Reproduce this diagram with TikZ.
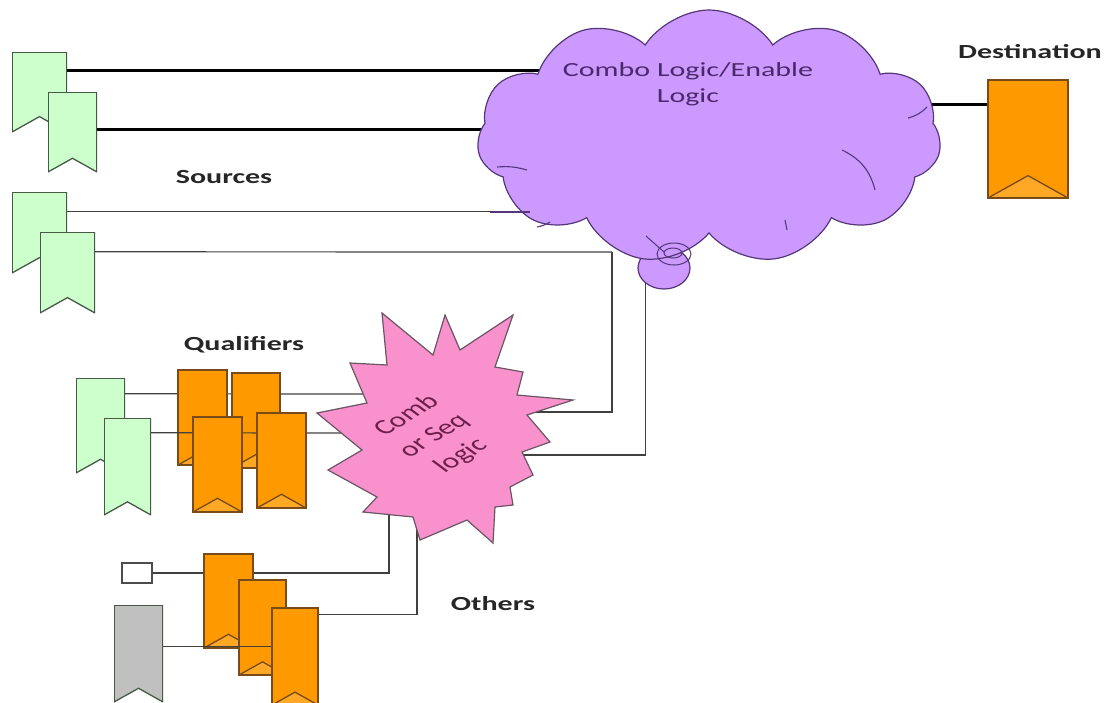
\documentclass[tikz,border=0pt]{standalone}
\usepackage{fontspec}
\usetikzlibrary{shapes.symbols,shapes.geometric,calc}
\newfontfamily\lblfont[FakeStretch=1.5]{Carlito}
\newfontfamily\starfont{Carlito}

\definecolor{srcgreen}{RGB}{204,255,204}
\definecolor{srcline}{RGB}{70,90,70}
\definecolor{regorange}{RGB}{255,153,0}
\definecolor{regline}{RGB}{120,75,25}
\definecolor{reggrey}{RGB}{192,192,192}
\definecolor{cloudfill}{RGB}{204,153,255}
\definecolor{cloudline}{RGB}{85,55,120}
\definecolor{starfill}{RGB}{248,145,204}
\definecolor{starline}{RGB}{105,85,100}
\definecolor{cloudtext}{RGB}{75,40,105}
\definecolor{startext}{RGB}{110,30,75}

\pgfdeclarelayer{bg}
\pgfsetlayers{bg,main}

\tikzset{
  ffgreen/.style={rectangle, inner sep=0pt, fill=srcgreen, draw=none,
    path picture={
      \fill[white] (path picture bounding box.south west)
        -- ($(path picture bounding box.south)!0.56!90:(path picture bounding box.south east)$)
        -- (path picture bounding box.south east) -- cycle;
      \draw[srcline, line width=2.6pt] (path picture bounding box.south west)
        -- (path picture bounding box.north west) -- (path picture bounding box.north east)
        -- (path picture bounding box.south east);
      \draw[srcline, line width=1.3pt] (path picture bounding box.south west)
        -- ($(path picture bounding box.south)!0.56!90:(path picture bounding box.south east)$)
        -- (path picture bounding box.south east);
    }},
  ffgrey/.style={ffgreen, fill=reggrey},
  fforange/.style={rectangle, inner sep=0pt, fill=regorange, draw=regline, line width=1.3pt,
    path picture={
      \fill[regorange!85!white] (path picture bounding box.south west)
        -- ($(path picture bounding box.south)!0.56!90:(path picture bounding box.south east)$)
        -- (path picture bounding box.south east) -- cycle;
      \draw[regline, line width=1.3pt] (path picture bounding box.south west)
        -- ($(path picture bounding box.south)!0.56!90:(path picture bounding box.south east)$)
        -- (path picture bounding box.south east);
    }},
  crease/.style={cloudline, line width=1.1pt},
  wire/.style={line width=1.2pt, black!75},
  bus/.style={line width=3pt, black},
  title/.style={font=\lblfont\bfseries\fontsize{20}{24}\selectfont, text=black!85},
}

\begin{document}
\begin{tikzpicture}[x=1pt,y=-1pt]
  \useasboundingbox (0,0) rectangle (1110,702);

  % combo logic cloud
  \node[ellipse, minimum width=52, minimum height=42, fill=cloudfill, draw=cloudline,
        line width=1.2pt] (bub) at (664,268) {};
  \node[cloud, cloud puffs=11, cloud puff arc=115, aspect=1.9, inner sep=0pt,
        minimum width=464, minimum height=254, fill=cloudfill, draw=cloudline,
        line width=1.2pt] (cl) at (709,137) {};
  \draw[cloudline, line width=1pt] (674,254) ellipse (17 and 11);
  \draw[cloudline, line width=1pt] (673,253) ellipse (9 and 5);
  \draw[cloudline, line width=1pt] (646,236) -- (664,252);
  \draw[crease] (497,167) to[bend left=10] (527,170);
  \draw[crease] (490,212) -- (530,212);
  \draw[crease] (842,150) to[bend left=25] (875,190);
  \draw[crease] (908,118) to[bend right=15] (927,107);
  \draw[crease] (550,222) to[bend left=10] (537,227);
  \draw[crease] (785,220) -- (787,230);
  \node[text=cloudtext, align=center, font=\lblfont\fontsize{20}{26}\selectfont]
    (cltext) at (688,84) {Combo Logic/Enable\\Logic};

  % sources
  \node[ffgreen, minimum width=55, minimum height=80] (s1) at (39.5,92) {};
  \node[ffgreen, minimum width=49, minimum height=80] (s2) at (72.5,132) {};
  \node[ffgreen, minimum width=55, minimum height=81] (s3) at (39.5,232.5) {};
  \node[ffgreen, minimum width=55, minimum height=81] (s4) at (67.5,272.5) {};
  \node[title] (srclbl) at (224,177) {Sources};

  % destination
  \node[fforange, minimum width=80, minimum height=118] (d) at (1028,139) {};
  \node[title] (dstlbl) at (1030,52) {Destination};

  % qualifiers
  \node[title] (qlbl) at (244,345) {Qualifiers};
  \node[ffgreen, minimum width=49, minimum height=95] (q1) at (100.5,425.5) {};
  \node[ffgreen, minimum width=47, minimum height=97] (q2) at (127.5,466.5) {};
  \node[fforange, minimum width=49, minimum height=95] (o1) at (202.5,417.5) {};
  \node[fforange, minimum width=48, minimum height=95] (o2) at (256,420.5) {};
  \coordinate (q2o) at ([yshift=-15pt]q2.north east);
  \coordinate (stW2) at (375,433);
  \draw[wire] (q2o) -- (stW2);
  \node[fforange, minimum width=49, minimum height=95] (o3) at (217.5,464.5) {};
  \node[fforange, minimum width=49, minimum height=95] (o4) at (281.5,460.5) {};

  % comb or seq logic
  \filldraw[fill=starfill, draw=starline, line width=1.2pt]
    (382,313) -- (433,355) -- (445,315) -- (460,350) -- (513,315) -- (495,367)
    -- (523,372) -- (517,395) -- (573,400) -- (527,415) -- (550,442) -- (522,452)
    -- (533,475) -- (510,487) -- (513,505) -- (495,507) -- (493,543) -- (467,520)
    -- (420,540) -- (413,517) -- (363,512) -- (377,497) -- (328,470) -- (362,450)
    -- (317,413) -- (367,403) -- (350,363) -- (387,365) -- cycle;
  \begin{scope}[shift={(434,436)}, xscale=1.5]
    \node[transform shape, rotate=42, text=startext, align=center,
          font=\starfont\fontsize{21}{27}\selectfont] (sttext) at (0,0) {Comb\\or Seq\\logic};
  \end{scope}

  % others
  \node[rectangle, draw=black!70, fill=white, line width=1.2pt, minimum width=30,
        minimum height=20, inner sep=0pt] (wb) at (137,573) {};
  \node[ffgrey, minimum width=49, minimum height=97] (gr) at (138.5,653.5) {};
  \node[fforange, minimum width=49, minimum height=94] (ot1) at (228.5,601) {};
  \node[fforange, minimum width=47, minimum height=95] (ot2) at (262.5,627.5) {};
  \coordinate (gro) at ([yshift=-42pt]gr.north east);
  \draw[wire] (gro) -- (gro -| ot2.east);
  \node[fforange, minimum width=46, minimum height=97] (ot3) at (295,656.5) {};
  \node[title] (othlbl) at (493,604) {Others};

  % wires under everything
  \begin{pgfonlayer}{bg}
    \coordinate (clIn) at (600,135);
    \coordinate (clS1) at (612,252);
    \coordinate (stE1) at (530,412);
    \coordinate (stE2) at (520,455);
    \coordinate (stW1) at (380,394);
    \coordinate (stS1) at (389,500);
    \coordinate (stS2) at (417,500);
    \coordinate (s1o) at ([yshift=-19pt]s1.north east);
    \coordinate (s2o) at ([yshift=-38pt]s2.north east);
    \coordinate (s3o) at ([yshift=-20pt]s3.north east);
    \coordinate (s4o) at ([yshift=-20pt]s4.north east);
    \coordinate (q1o) at ([yshift=-16pt]q1.north east);
    \coordinate (din) at ([yshift=-25pt]d.north west);
    \coordinate (ot3o) at ([yshift=-7pt]ot3.north east);
    \draw[bus] (s1o) -- (s1o -| clIn);
    \draw[bus] (s2o) -- (s2o -| clIn);
    \draw[wire] (s3o) -- (s3o -| clIn);
    \draw[wire] (s4o) -- (clS1);
    \draw[bus] (din) -- (din -| cl.center);
    \draw[wire] (clS1) |- (stE1);
    \draw[wire] (bub.south west) |- (stE2);
    \draw[wire] (q1o) -- (stW1);
    \draw[wire] (wb.east) -| (stS1);
    \draw[wire] (ot3o) -| (stS2);
  \end{pgfonlayer}
\end{tikzpicture}
\end{document}
